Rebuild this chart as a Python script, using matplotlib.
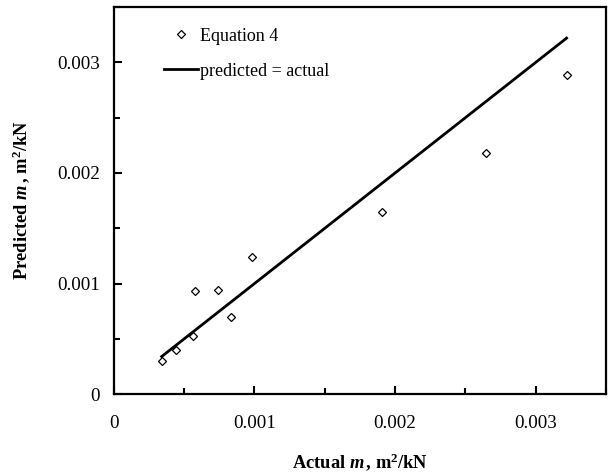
import matplotlib
matplotlib.use("Agg")
import matplotlib.pyplot as plt
from matplotlib.ticker import MultipleLocator, FixedFormatter, FixedLocator

plt.rcParams['font.family'] = ['Liberation Serif', 'DejaVu Serif']
plt.rcParams['mathtext.fontset'] = 'custom'
plt.rcParams['mathtext.rm'] = 'Liberation Serif:bold'
plt.rcParams['mathtext.it'] = 'Liberation Serif:italic:bold'
plt.rcParams['mathtext.bf'] = 'Liberation Serif:bold'

# actual vs predicted m (m^2/kN)
actual_m = [0.00034, 0.00044, 0.00056, 0.00058, 0.00074, 0.00083, 0.00098, 0.00191, 0.00265, 0.00322]
predicted_m = [0.00030, 0.00040, 0.00053, 0.00093, 0.00094, 0.00070, 0.00124, 0.00165, 0.00218, 0.00289]
line_x = [0.00034, 0.00322]
line_y = [0.00034, 0.00322]

tick_vals = [0, 0.001, 0.002, 0.003]
tick_labels = ['0', '0.001', '0.002', '0.003']

fig = plt.figure(figsize=(6.09, 4.76), dpi=100)
ax = fig.add_axes([0.187, 0.172, 0.808, 0.813])

ax.plot(actual_m, predicted_m, linestyle='none', marker='D', markersize=4.5,
        mfc='white', mec='black', mew=0.9, label='Equation 4')
ax.plot(line_x, line_y, color='black', lw=2, label='predicted = actual')

ax.set_xlim(0, 0.0035)
ax.set_ylim(0, 0.0035)

for axis in (ax.xaxis, ax.yaxis):
    axis.set_major_locator(FixedLocator(tick_vals))
    axis.set_major_formatter(FixedFormatter(tick_labels))
    axis.set_minor_locator(MultipleLocator(0.0005))

ax.tick_params(which='both', direction='in', width=1.5, labelsize=13.7)
ax.tick_params(which='major', length=6)
ax.tick_params(which='minor', length=4)
ax.tick_params(axis='x', pad=15)
ax.tick_params(axis='y', pad=10)
ax.tick_params(top=False, right=False)

for s in ax.spines.values():
    s.set_linewidth(1.6)

ax.set_xlabel(r'Actual $m\,$, m$^{\mathbf{2}}$/kN', fontsize=13.3, fontweight='bold', labelpad=14)
ax.set_ylabel(r'Predicted $m\,$, m$^{\mathbf{2}}$/kN', fontsize=13.3, fontweight='bold', labelpad=18)

ax.legend(loc='upper left', bbox_to_anchor=(0.08, 0.975), frameon=False, fontsize=13,
          handlelength=1.9, handletextpad=0.1, labelspacing=1.0, borderaxespad=0.2)

fig.savefig('out.png', dpi=100)
